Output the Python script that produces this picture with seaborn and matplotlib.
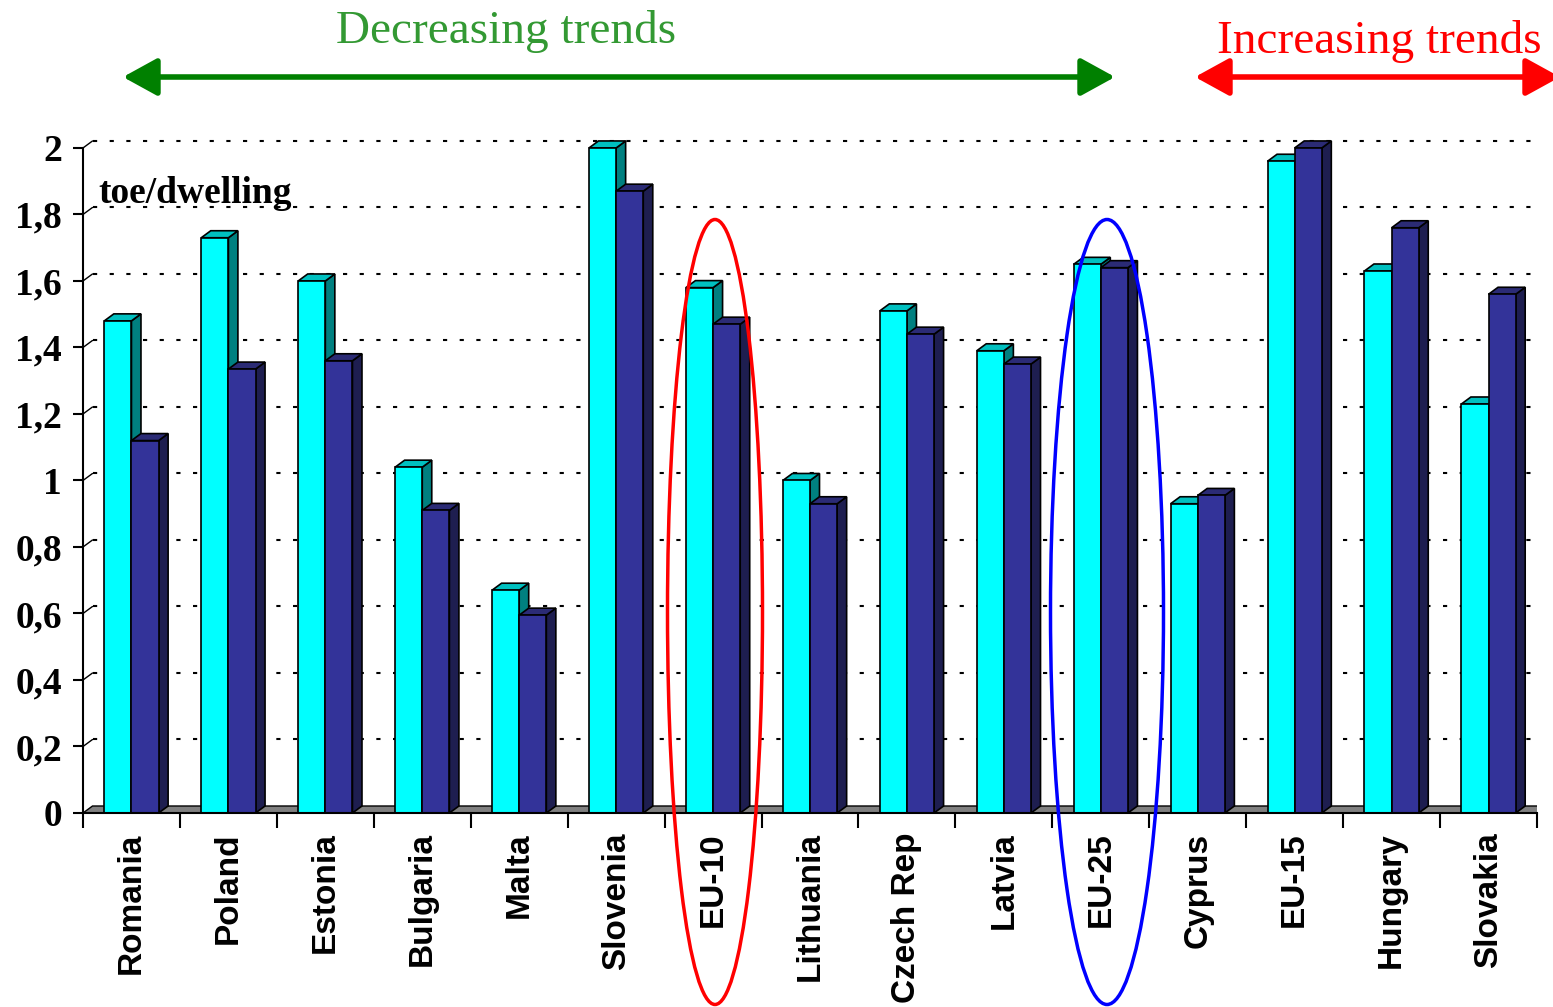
import numpy as np
import pandas as pd
import seaborn as sns
import matplotlib.pyplot as plt
from matplotlib.patches import Polygon, Ellipse, FancyArrowPatch

# Residential energy consumption per dwelling (toe/dwelling)
countries = ["Romania", "Poland", "Estonia", "Bulgaria", "Malta", "Slovenia",
             "EU-10", "Lithuania", "Czech Rep", "Latvia", "EU-25", "Cyprus",
             "EU-15", "Hungary", "Slovakia"]
start_values = [1.48, 1.73, 1.60, 1.04, 0.67, 2.00, 1.58, 1.00, 1.51, 1.39,
                1.65, 0.93, 1.96, 1.63, 1.23]
end_values = [1.12, 1.335, 1.36, 0.91, 0.595, 1.87, 1.47, 0.93, 1.44, 1.35,
              1.64, 0.955, 2.00, 1.76, 1.56]
y_ticks = [0, 0.2, 0.4, 0.6, 0.8, 1.0, 1.2, 1.4, 1.6, 1.8, 2.0]
y_tick_labels = ["0", "0,2", "0,4", "0,6", "0,8", "1", "1,2", "1,4", "1,6", "1,8", "2"]

df = pd.DataFrame({
    "country": countries * 2,
    "value": start_values + end_values,
    "period": ["start"] * len(countries) + ["end"] * len(countries),
})

W, H = 1553, 1007
sns.set_style("white")
plt.rcParams["font.family"] = ["Liberation Serif", "DejaVu Serif"]
plt.rcParams["text.color"] = "black"
plt.rcParams["xtick.color"] = "black"
plt.rcParams["ytick.color"] = "black"
plt.rcParams["xtick.labelcolor"] = "black"
plt.rcParams["ytick.labelcolor"] = "black"

fig = plt.figure(figsize=(W / 100, H / 100), dpi=100)
ax = fig.add_axes([83 / W, 194 / H, 1454 / W, 683 / H])

front_cols = {"start": "#00FFFF", "end": "#333399"}
top_cols = {"start": "#00C0C0", "end": "#2B2B75"}
side_cols = {"start": "#008080", "end": "#1E1E50"}

sns.barplot(data=df, x="country", y="value", hue="period",
            hue_order=["start", "end"], palette=[front_cols["start"], front_cols["end"]],
            width=0.56, edgecolor="black", linewidth=1.2, saturation=1,
            legend=False, ax=ax, errorbar=None)

n = len(countries)
ax.set_xlim(-0.5, n - 0.5)
ax.set_ylim(0, 2.054)

# depth of the pseudo-3D effect, in data units
dx = 9.5 / 96.9
dy = 7 / 332.5

# back-wall gridlines
for v in y_ticks[1:]:
    ax.plot([-0.5 + dx, n - 0.5 + dx], [v + dy, v + dy], color="black",
            lw=1.5, ls=(0, (2, 6)), zorder=0.5)
    ax.plot([-0.5, -0.5 + dx], [v, v + dy], color="black", lw=1.0, zorder=0.5)

# floor
ax.add_patch(Polygon([(-0.5, 0), (n - 0.5, 0), (n - 0.5 + dx, dy), (-0.5 + dx, dy)],
                     closed=True, facecolor="#808080", edgecolor="black", lw=1.0,
                     zorder=1))

# side and top faces for every bar
bars = [p for p in ax.patches if isinstance(p, plt.Rectangle) and p.get_height() > 0]
for p in bars:
    fc = p.get_facecolor()
    key = "start" if fc[2] > 0.9 and fc[1] > 0.9 else "end"
    x0 = p.get_x()
    x1 = x0 + p.get_width()
    h = p.get_height()
    side = Polygon([(x1, 0), (x1 + dx, dy), (x1 + dx, h + dy), (x1, h)], closed=True,
                   facecolor=side_cols[key], edgecolor="black", lw=1.2, zorder=1.5)
    top = Polygon([(x0, h), (x0 + dx, h + dy), (x1 + dx, h + dy), (x1, h)], closed=True,
                  facecolor=top_cols[key], edgecolor="black", lw=1.2, zorder=1.5)
    ax.add_patch(side)
    ax.add_patch(top)
    p.set_zorder(2)

# axes styling
for s in ["top", "right"]:
    ax.spines[s].set_visible(False)
ax.spines["left"].set_bounds(0, 2)
ax.spines["bottom"].set_bounds(-0.5, n - 0.5)
for s in ["left", "bottom"]:
    ax.spines[s].set_color("black")
    ax.spines[s].set_linewidth(1.5)
    ax.spines[s].set_zorder(3)

ax.set_yticks(y_ticks)
ax.set_yticklabels(y_tick_labels, fontsize=27, fontweight="bold", color="black",
                   family=["Liberation Serif", "DejaVu Serif"])
ax.tick_params(axis="y", direction="out", length=7, width=1.5, color="black", pad=8,
               left=True)

ax.set_xticks(np.arange(-0.5, n, 1.0))
ax.set_xticklabels([])
ax.tick_params(axis="x", which="major", direction="out", length=11, width=1.5,
               color="black", bottom=True)
ax.set_xticks(np.arange(n), minor=True)
ax.set_xticklabels(countries, minor=True, rotation=90, fontsize=24, fontweight="bold",
                   color="black", family=["Liberation Sans", "DejaVu Sans"],
                   va="top", ha="center")
ax.tick_params(axis="x", which="minor", length=0, pad=14)
ax.set_xlabel("")
ax.set_ylabel("")
ax.grid(False)

ax.text(-0.5 + 15 / 96.9, (813 - 194) / 332.5, "toe/dwelling", fontsize=27,
        fontweight="bold", color="black", va="center", ha="left", zorder=4)

# trend banners above the chart
fig.text(506 / W, 1 - 43 / H, "Decreasing trends", color="#339933", fontsize=34,
         ha="center", va="baseline")
fig.text(1379 / W, 1 - 53 / H, "Increasing trends", color="#FF0000", fontsize=34,
         ha="center", va="baseline")
style = "<|-|>,head_length=1.0,head_width=0.55"
fig.add_artist(FancyArrowPatch((123 / W, 1 - 77 / H), (1115 / W, 1 - 77 / H),
                               transform=fig.transFigure, arrowstyle=style,
                               mutation_scale=21, color="#008000", lw=4,
                               shrinkA=0, shrinkB=0))
fig.add_artist(FancyArrowPatch((1195 / W, 1 - 77 / H), (1560 / W, 1 - 77 / H),
                               transform=fig.transFigure, arrowstyle=style,
                               mutation_scale=21, color="#FF0000", lw=4,
                               shrinkA=0, shrinkB=0))

# highlight ellipses around the aggregates
fig.add_artist(Ellipse((715 / W, 1 - 612 / H), 95 / W, 785 / H, transform=fig.transFigure,
                       fill=False, edgecolor="#FF0000", lw=2.5, zorder=10))
fig.add_artist(Ellipse((1107 / W, 1 - 612 / H), 113 / W, 785 / H, transform=fig.transFigure,
                       fill=False, edgecolor="#0000FF", lw=2.5, zorder=10))

fig.savefig("out.png", dpi=100)
